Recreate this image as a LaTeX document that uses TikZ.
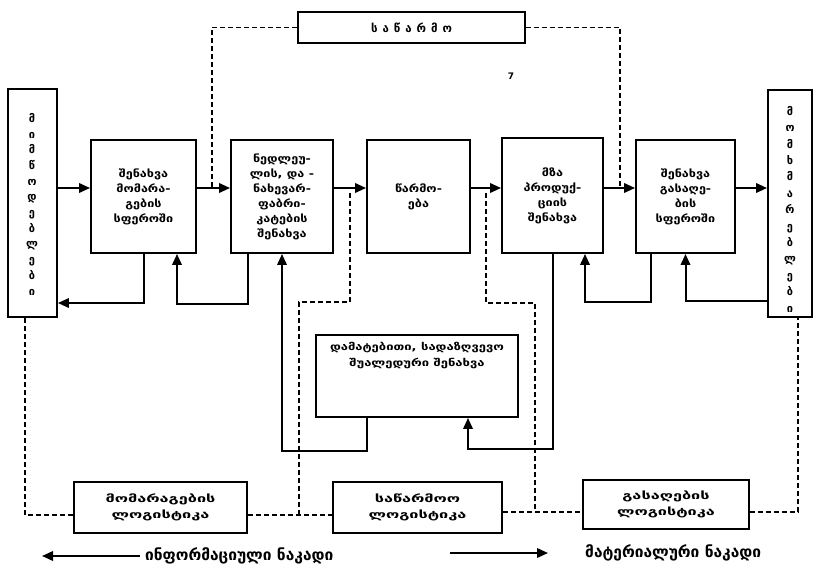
\documentclass[tikz,border=0pt]{standalone}
\usepackage{fontspec}
\setmainfont{DejaVu Sans}
\newfontfamily\geobox[FakeStretch=1.2]{DejaVu Sans}
\newfontfamily\geomid[FakeStretch=1.3]{DejaVu Sans}
\newfontfamily\geowide[FakeStretch=1.55]{DejaVu Sans}
\usetikzlibrary{arrows.meta}
\begin{document}
\begin{tikzpicture}[x=1pt,y=-1pt,
  box/.style={draw,line width=1.9pt,rectangle,inner sep=0pt,align=center,
    font=\geobox\bfseries\fontsize{10.5}{15}\selectfont},
  areabox/.style={box,font=\geowide\bfseries\fontsize{10.5}{16}\selectfont},
  flow/.style={line width=2pt,-{Triangle[length=11pt,width=9.5pt]}},
  plain/.style={line width=2pt},
  dline/.style={line width=1.5pt,dash pattern=on 5pt off 3pt},
  vtext/.style={font=\bfseries\fontsize{11}{15.7}\selectfont,align=center,inner sep=0pt,anchor=north},
  legend/.style={font=\bfseries\fontsize{15.5}{17}\selectfont,anchor=west,inner sep=0pt}]
\useasboundingbox (0,0) rectangle (816,568);

% outer partners
\node[box,minimum width=49pt,minimum height=228pt] (sup) at (32.5,203) {};
\node[box,minimum width=44pt,minimum height=227pt] (cons) at (790,203.5) {};
\node[vtext] (supt) at (32,113)
  {მ\\ი\\მ\\წ\\ო\\დ\\ე\\ბ\\ლ\\ე\\ბ\\ი};
\node[vtext,font=\bfseries\fontsize{11}{16.4}\selectfont] (const) at (790,106)
  {მ\\ო\\მ\\ხ\\მ\\ა\\რ\\ე\\ბ\\ლ\\ე\\ბ\\ი};

% enterprise
\node[box,minimum width=227pt,minimum height=31pt,font=\bfseries\fontsize{11.5}{12}\selectfont] (ent) at (411.5,27.5)
  {ს\hspace{5pt}ა\hspace{5pt}წ\hspace{5pt}ა\hspace{5pt}რ\hspace{5pt}მ\hspace{5pt}ო};

% main chain
\node[box,minimum width=105pt,minimum height=113pt] (b1) at (143.5,196.5) {შენახვა\\მომარა-\\გების\\სფეროში};
\node[box,minimum width=102pt,minimum height=113pt] (b2) at (282,196.5) {ნედლეუ-\\ლის, და -\\ნახევარ-\\ფაბრი-\\კატების\\შენახვა};
\node[box,minimum width=103pt,minimum height=113pt] (b3) at (418.5,196.5) {წარმო-\\ება};
\node[box,minimum width=101pt,minimum height=115pt] (b4) at (552.5,195.5) {მზა\\პროდუქ-\\ციის\\შენახვა};
\node[box,minimum width=99pt,minimum height=113pt] (b5) at (685.5,196.5) {შენახვა\\გასაღე-\\ბის\\სფეროში};

% intermediate storage
\node[box,minimum width=202pt,minimum height=82pt] (mid) at (417,376) {};
\node[font=\geomid\bfseries\fontsize{10}{16}\selectfont,align=center,inner sep=0pt,anchor=north] (midt) at ([yshift=-8pt]mid.north)
  {დამატებითი, სადაზღვევო\\შუალედური შენახვა};

% logistics areas
\node[areabox,minimum width=173pt,minimum height=51pt] (l1) at (160.5,507.5) {მომარაგების\\ლოგისტიკა};
\node[areabox,minimum width=169pt,minimum height=51pt] (l2) at (417.5,507.5) {საწარმოო\\ლოგისტიკა};
\node[areabox,minimum width=166pt,minimum height=49pt] (l3) at (666,504.5) {გასაღების\\ლოგისტიკა};

\node[font=\bfseries\fontsize{9}{10}\selectfont,inner sep=0pt] (mark) at (511,76) {7};

% reference levels
\coordinate (ym) at (0,188);
\coordinate (yf) at (0,303);
\coordinate (yr) at (0,301);
\coordinate (yb1) at (0,515);
\coordinate (yb2) at (0,512);

% material flow along the chain
\draw[flow] (sup.east |- ym) -- (b1.west |- ym);
\draw[flow] (b1.east |- ym) -- (b2.west |- ym);
\draw[flow] (b2.east |- ym) -- (b3.west |- ym);
\draw[flow] (b3.east |- ym) -- (b4.west |- ym);
\draw[flow] (b4.east |- ym) -- (b5.west |- ym);
\draw[flow] (b5.east |- ym) -- (cons.west |- ym);

% return loops
\draw[flow] (b1.south) |- (sup.east |- yf);
\draw[flow] ([xshift=-34pt]b2.south) -- ++(0,50) -| ([xshift=33.5pt]b1.south);
\draw[flow] ([xshift=-50pt]mid.south) -- ++(0,33) -| (b2.south);
\draw[flow] (b4.south) -- ++(0,195) -| ([xshift=51pt]mid.south);
\draw[flow] ([xshift=-34.5pt]b5.south) -- ++(0,48) -| ([xshift=32.5pt]b4.south);
\draw[flow] (cons.west |- yr) -| (b5.south);

% information flow
\coordinate (j1) at (212,188);
\coordinate (j4) at (620,188);
\draw[dline] (ent.west) -| (j1);
\draw[dline] (ent.east) -| (j4);

\coordinate (j2) at (350,193);
\coordinate (k2) at (299,302);
\coordinate (j3) at (486,193);
\coordinate (k3) at (535,303);
\draw[dline] (j2) |- (k2) -- (k2 |- yb1);
\draw[dline] (j3) |- (k3) -- (k3 |- yb2);

\draw[dline] ([xshift=-7.5pt]sup.south) |- (l1.west |- yb1);
\draw[dline] (l1.east |- yb1) -- (l2.west |- yb1);
\draw[dline] (l2.east |- yb2) -- (l3.west |- yb2);
\draw[dline] (l3.east |- yb2) -| ([xshift=8pt]cons.south);

% legend
\node[legend] (info) at (145,556) {ინფორმაციული ნაკადი};
\node[legend] (mat) at (585,553) {მატერიალური ნაკადი};
\draw[flow] ([xshift=-5pt]info.west) -- ++(-98,0);
\draw[plain,-{Triangle[length=11pt,width=9.5pt]}] ([xshift=-135pt]mat.west) -- ([xshift=-37pt]mat.west);
\end{tikzpicture}
\end{document}
